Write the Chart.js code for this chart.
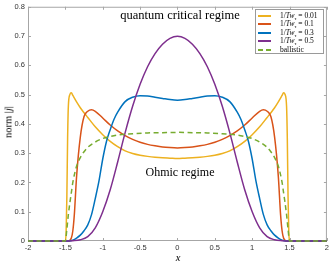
<!DOCTYPE html>
<html lang="en">
<head>
    <meta charset="UTF-8">
    <title>norm |j| profiles</title>
    <script src="https://cdn.jsdelivr.net/npm/chart.js"></script>
    <style>
        body { margin: 0; background: #fff; }
        #wrap { position: relative; width: 332px; height: 263px; font-family: "Liberation Serif", "Times New Roman", serif; }
        .note { position: absolute; transform: translate(-50%, -50%); white-space: nowrap; color: #000; }
        #legend { position: absolute; left: 255px; top: 9px; width: 69px; height: 45px; border: 1px solid #9a9a9a; background: #fff; box-sizing: border-box; }
        .row { position: absolute; left: 0; height: 9px; width: 100%; font-size: 7.5px; line-height: 9px; }
        .row .txt { position: absolute; left: 24px; top: 0; white-space: nowrap; }
        .row .txt sub { font-size: 5px; vertical-align: -1.5px; }
        .row .ln { position: absolute; left: 2px; top: 4px; width: 13px; height: 2px; }
    </style>
</head>
<body>
<div id="wrap">
    <canvas id="chart" width="332" height="263"></canvas>
    <div class="note" style="left:180px; top:15px; font-size:12.5px;">quantum critical regime</div>
    <div class="note" style="left:180px; top:172px; font-size:12px;">Ohmic regime</div>
    <div class="note" style="left:8px; top:122px; font-size:10.5px; transform: translate(-50%, -50%) rotate(-90deg);">norm |<i>j</i>|</div>
    <div class="note" style="left:178px; top:257px; font-size:10.5px;"><i>x</i></div>
    <div id="legend"></div>
</div>
<script>
    // tick labels
    const xTickLabels = ['-2', '-1.5', '-1', '-0.5', '0', '0.5', '1', '1.5', '2'];
    const yTickLabels = ['0', '0.1', '0.2', '0.3', '0.4', '0.5', '0.6', '0.7', '0.8'];

    // legend values of 1/Tw
    const tauValues = ['0.01', '0.1', '0.3', '0.5'];

    // 1/Tw = 0.01
    const xYellow = [-2, -1.5, -1.49, -1.48, -1.47, -1.46, -1.44, -1.42, -1.4, -1.35, -1.3, -1.25, -1.2, -1.1, -1.0, -0.9, -0.8, -0.7, -0.6, -0.5, -0.4, -0.3, -0.2, -0.1, 0,
                     0.1, 0.2, 0.3, 0.4, 0.5, 0.6, 0.7, 0.8, 0.9, 1.0, 1.1, 1.2, 1.25, 1.3, 1.35, 1.4, 1.42, 1.44, 1.46, 1.47, 1.48, 1.49, 1.5, 2];
    const yYellow = [0, 0, 0.03, 0.15, 0.35, 0.46, 0.5, 0.506, 0.497, 0.475, 0.455, 0.438, 0.422, 0.39, 0.363, 0.34, 0.322, 0.308, 0.299, 0.293, 0.289, 0.286, 0.284, 0.283, 0.282,
                     0.283, 0.284, 0.286, 0.289, 0.293, 0.299, 0.308, 0.322, 0.34, 0.363, 0.39, 0.422, 0.438, 0.455, 0.475, 0.497, 0.506, 0.5, 0.46, 0.35, 0.15, 0.03, 0, 0];

    // 1/Tw = 0.1
    const xOrange = [-2, -1.46, -1.42, -1.4, -1.38, -1.35, -1.3, -1.25, -1.2, -1.15, -1.1, -1.0, -0.9, -0.8, -0.7, -0.6, -0.5, -0.4, -0.3, -0.2, -0.1, 0,
                     0.1, 0.2, 0.3, 0.4, 0.5, 0.6, 0.7, 0.8, 0.9, 1.0, 1.1, 1.15, 1.2, 1.25, 1.3, 1.35, 1.38, 1.4, 1.42, 1.46, 2];
    const yOrange = [0, 0, 0.01, 0.035, 0.09, 0.22, 0.355, 0.425, 0.443, 0.448, 0.443, 0.42, 0.396, 0.376, 0.36, 0.347, 0.337, 0.33, 0.325, 0.321, 0.319, 0.318,
                     0.319, 0.321, 0.325, 0.33, 0.337, 0.347, 0.36, 0.376, 0.396, 0.42, 0.443, 0.448, 0.443, 0.425, 0.355, 0.22, 0.09, 0.035, 0.01, 0, 0];

    // 1/Tw = 0.3
    const xBlue = [-2, -1.45, -1.4, -1.35, -1.3, -1.25, -1.2, -1.15, -1.1, -1.05, -1.0, -0.95, -0.9, -0.85, -0.8, -0.7, -0.6, -0.5, -0.4, -0.3, -0.2, -0.1, 0,
                   0.1, 0.2, 0.3, 0.4, 0.5, 0.6, 0.7, 0.8, 0.85, 0.9, 0.95, 1.0, 1.05, 1.1, 1.15, 1.2, 1.25, 1.3, 1.35, 1.4, 1.45, 2];
    const yBlue = [0, 0, 0.003, 0.01, 0.02, 0.035, 0.055, 0.09, 0.145, 0.205, 0.28, 0.34, 0.38, 0.415, 0.44, 0.476, 0.491, 0.496, 0.495, 0.491, 0.487, 0.483, 0.481,
                   0.483, 0.487, 0.491, 0.495, 0.496, 0.491, 0.476, 0.44, 0.415, 0.38, 0.34, 0.28, 0.205, 0.145, 0.09, 0.055, 0.035, 0.02, 0.01, 0.003, 0, 0];

    // 1/Tw = 0.5
    const xPurple = [-2, -1.5, -1.4, -1.3, -1.2, -1.1, -1.0, -0.9, -0.8, -0.7, -0.6, -0.5, -0.4, -0.3, -0.2, -0.1, 0,
                     0.1, 0.2, 0.3, 0.4, 0.5, 0.6, 0.7, 0.8, 0.9, 1.0, 1.1, 1.2, 1.3, 1.4, 1.5, 2];
    const yPurple = [0, 0, 0.001, 0.004, 0.015, 0.045, 0.1, 0.175, 0.27, 0.37, 0.46, 0.535, 0.595, 0.64, 0.672, 0.692, 0.699,
                     0.692, 0.672, 0.64, 0.595, 0.535, 0.46, 0.37, 0.27, 0.175, 0.1, 0.045, 0.015, 0.004, 0.001, 0, 0];

    // ballistic
    const xBallistic = [-2, -1.5, -1.48, -1.46, -1.44, -1.42, -1.4, -1.35, -1.3, -1.25, -1.2, -1.1, -1.0, -0.9, -0.8, -0.6, -0.4, -0.2, 0,
                        0.2, 0.4, 0.6, 0.8, 0.9, 1.0, 1.1, 1.2, 1.25, 1.3, 1.35, 1.4, 1.42, 1.44, 1.46, 1.48, 1.5, 2];
    const yBallistic = [0, 0, 0.04, 0.09, 0.13, 0.165, 0.2, 0.255, 0.285, 0.305, 0.32, 0.338, 0.35, 0.357, 0.362, 0.366, 0.369, 0.37, 0.371,
                        0.37, 0.369, 0.366, 0.362, 0.357, 0.35, 0.338, 0.32, 0.305, 0.285, 0.255, 0.2, 0.165, 0.13, 0.09, 0.04, 0, 0];

    const colors = ['#EDB120', '#D95319', '#0072BD', '#7E2F8E', '#77AC30'];

    function pts(xs, ys) {
        return xs.map((x, i) => ({ x: x, y: ys[i] }));
    }

    function line(label, xs, ys, color, order, dash) {
        return {
            label: label,
            data: pts(xs, ys),
            borderColor: color,
            borderWidth: 1.5,
            borderDash: dash || [],
            pointRadius: 0,
            fill: false,
            cubicInterpolationMode: 'monotone',
            order: order,
            clip: 4
        };
    }

    // axes box with inward ticks, drawn under the curves
    const boxPlugin = {
        id: 'box',
        beforeDatasetsDraw(chart) {
            const { ctx, chartArea: a, scales } = chart;
            ctx.save();
            ctx.strokeStyle = '#a6a6a6';
            ctx.lineWidth = 1;
            ctx.strokeRect(a.left + 0.5, a.top + 0.5, a.right - a.left - 1, a.bottom - a.top - 1);
            ctx.beginPath();
            scales.x.ticks.forEach(t => {
                const px = Math.round(scales.x.getPixelForValue(t.value)) + 0.5;
                ctx.moveTo(px, a.bottom); ctx.lineTo(px, a.bottom - 3);
                ctx.moveTo(px, a.top); ctx.lineTo(px, a.top + 3);
            });
            scales.y.ticks.forEach(t => {
                const py = Math.round(scales.y.getPixelForValue(t.value)) + 0.5;
                ctx.moveTo(a.left, py); ctx.lineTo(a.left + 3, py);
                ctx.moveTo(a.right, py); ctx.lineTo(a.right - 3, py);
            });
            ctx.stroke();
            ctx.restore();
        }
    };

    const tickFont = { family: '"Liberation Sans", Arial, sans-serif', size: 7.5, lineHeight: 1 };

    new Chart(document.getElementById('chart'), {
        type: 'line',
        data: {
            datasets: [
                line('1/Tw = ' + tauValues[0], xYellow, yYellow, colors[0], 4),
                line('1/Tw = ' + tauValues[1], xOrange, yOrange, colors[1], 3),
                line('1/Tw = ' + tauValues[2], xBlue, yBlue, colors[2], 2),
                line('1/Tw = ' + tauValues[3], xPurple, yPurple, colors[3], 1),
                line('ballistic', xBallistic, yBallistic, colors[4], 0, [5, 3.5])
            ]
        },
        options: {
            responsive: false,
            animation: false,
            devicePixelRatio: 1,
            layout: { padding: { top: 3, right: 3, left: 0, bottom: 0 } },
            plugins: { legend: { display: false }, tooltip: { enabled: false } },
            scales: {
                x: {
                    type: 'linear', min: -2, max: 2,
                    grid: { display: false, drawTicks: false },
                    border: { display: false },
                    ticks: { stepSize: 0.5, padding: 3, color: '#333', font: tickFont, maxRotation: 0,
                             callback: (v, i) => xTickLabels[i] },
                    afterFit: s => { s.height = 22; }
                },
                y: {
                    min: 0, max: 0.8,
                    grid: { display: false, drawTicks: false },
                    border: { display: false },
                    ticks: { stepSize: 0.1, padding: 3, color: '#333', font: tickFont,
                             callback: (v, i) => yTickLabels[i] },
                    afterFit: s => { s.width = 28; }
                }
            }
        },
        plugins: [boxPlugin]
    });

    // legend box
    const legend = document.getElementById('legend');
    const rowCenters = [5, 13.6, 22.2, 30.8, 39.4];
    const legendTexts = tauValues.map(v => '1/<i>Tw</i><sub>τ</sub> = ' + v).concat(['ballistic']);
    legendTexts.forEach((txt, i) => {
        const row = document.createElement('div');
        row.className = 'row';
        row.style.top = (rowCenters[i] - 4.5) + 'px';
        const ln = i < 4
            ? '<div class="ln" style="background:' + colors[i] + '"></div>'
            : '<div class="ln" style="width:5px;background:' + colors[i] + '"></div><div class="ln" style="left:10px;width:5px;background:' + colors[i] + '"></div>';
        row.innerHTML = ln + '<span class="txt">' + txt + '</span>';
        legend.appendChild(row);
    });
</script>
</body>
</html>
